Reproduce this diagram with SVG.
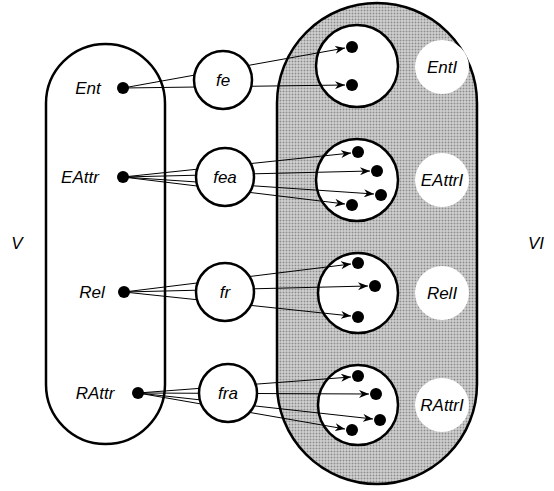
<svg xmlns="http://www.w3.org/2000/svg" width="554" height="491" viewBox="0 0 554 491">
  <style>
    .lbl { font-family: "Liberation Sans", Arial, sans-serif; font-style: italic; font-size: 17px; fill: #000; }
    .thick { fill: #fff; stroke: #000; stroke-width: 2.5; }
    .dot { fill: #000; }
    .edge { stroke: #000; stroke-width: 1; fill: none; marker-end: url(#head); }
    .tag { fill: #fff; stroke: none; }
  </style>
  <defs>
    <pattern id="stipple" width="3" height="3" patternUnits="userSpaceOnUse">
      <rect width="3" height="3" fill="#e2e2e2"/>
      <rect x="0.5" y="0.5" width="2" height="2" fill="#8c8c8c"/>
    </pattern>
    <marker id="head" viewBox="0 0 10 8" refX="10" refY="4" markerWidth="10" markerHeight="8" markerUnits="userSpaceOnUse" orient="auto">
      <path d="M0,0 L10,4 L0,8 L3,4 Z" fill="#000"/>
    </marker>
  </defs>

  <!-- outer sets -->
  <g id="set-V">
    <rect x="46" y="44" width="119" height="400" rx="59.5" ry="59.5" class="thick"/>
    <text class="lbl" x="17" y="249" text-anchor="middle">V</text>
  </g>
  <g id="set-VI">
    <rect x="277" y="3" width="200" height="481" rx="100" ry="100" fill="url(#stipple)" stroke="#000" stroke-width="2.5"/>
    <text class="lbl" x="536" y="249" text-anchor="middle">VI</text>
  </g>

  <!-- target sets -->
  <g id="EntI">
    <circle class="thick" cx="357" cy="66" r="41"/>
    <circle class="tag" cx="442" cy="67" r="27"/>
    <text class="lbl" x="442" y="73" text-anchor="middle">EntI</text>
  </g>
  <g id="EAttrI">
    <circle class="thick" cx="357" cy="180" r="41"/>
    <circle class="tag" cx="442" cy="180" r="27"/>
    <text class="lbl" x="442" y="186" text-anchor="middle">EAttrI</text>
  </g>
  <g id="RelI">
    <circle class="thick" cx="358" cy="293" r="40"/>
    <circle class="tag" cx="442" cy="293" r="27"/>
    <text class="lbl" x="442" y="299" text-anchor="middle">RelI</text>
  </g>
  <g id="RAttrI">
    <circle class="thick" cx="358" cy="405" r="40"/>
    <circle class="tag" cx="442" cy="405" r="27"/>
    <text class="lbl" x="442" y="411" text-anchor="middle">RAttrI</text>
  </g>

  <!-- connectors: straight lines from source dots to target elements -->
  <g id="connectors">
    <line class="edge" x1="123" y1="88" x2="345" y2="48"/>
    <line class="edge" x1="123" y1="88" x2="345" y2="85"/>

    <line class="edge" x1="123" y1="177" x2="351" y2="153"/>
    <line class="edge" x1="123" y1="177" x2="370" y2="171"/>
    <line class="edge" x1="123" y1="177" x2="374" y2="194"/>
    <line class="edge" x1="123" y1="177" x2="345" y2="204"/>

    <line class="edge" x1="124" y1="292" x2="351" y2="264"/>
    <line class="edge" x1="124" y1="292" x2="368" y2="286"/>
    <line class="edge" x1="124" y1="292" x2="351" y2="316"/>

    <line class="edge" x1="138" y1="393" x2="351" y2="377"/>
    <line class="edge" x1="138" y1="393" x2="369" y2="394"/>
    <line class="edge" x1="138" y1="393" x2="373" y2="419"/>
    <line class="edge" x1="138" y1="393" x2="345" y2="429"/>
  </g>

  <!-- elements inside the target sets -->
  <g id="EntI-elements">
    <circle class="dot" cx="352" cy="47" r="6"/>
    <circle class="dot" cx="352" cy="85" r="6"/>
  </g>
  <g id="EAttrI-elements">
    <circle class="dot" cx="358" cy="152" r="6"/>
    <circle class="dot" cx="377" cy="171" r="6"/>
    <circle class="dot" cx="381" cy="195" r="6"/>
    <circle class="dot" cx="352" cy="205" r="6"/>
  </g>
  <g id="RelI-elements">
    <circle class="dot" cx="358" cy="263" r="6"/>
    <circle class="dot" cx="375" cy="286" r="6"/>
    <circle class="dot" cx="358" cy="317" r="6"/>
  </g>
  <g id="RAttrI-elements">
    <circle class="dot" cx="358" cy="376" r="6"/>
    <circle class="dot" cx="376" cy="394" r="6"/>
    <circle class="dot" cx="380" cy="420" r="6"/>
    <circle class="dot" cx="352" cy="430" r="6"/>
  </g>

  <!-- source elements -->
  <g id="Ent">
    <circle class="dot" cx="123" cy="88" r="6"/>
    <text class="lbl" x="88" y="94" text-anchor="middle">Ent</text>
  </g>
  <g id="EAttr">
    <circle class="dot" cx="123" cy="177" r="6"/>
    <text class="lbl" x="80" y="183" text-anchor="middle">EAttr</text>
  </g>
  <g id="Rel">
    <circle class="dot" cx="124" cy="292" r="6"/>
    <text class="lbl" x="92" y="298" text-anchor="middle">Rel</text>
  </g>
  <g id="RAttr">
    <circle class="dot" cx="138" cy="393" r="6"/>
    <text class="lbl" x="95" y="399" text-anchor="middle">RAttr</text>
  </g>

  <!-- mapping functions -->
  <g id="fe">
    <circle class="thick" cx="223" cy="80" r="29"/>
    <text class="lbl" x="223" y="86" text-anchor="middle">fe</text>
  </g>
  <g id="fea">
    <circle class="thick" cx="225" cy="177" r="29"/>
    <text class="lbl" x="225" y="183" text-anchor="middle">fea</text>
  </g>
  <g id="fr">
    <circle class="thick" cx="225" cy="292" r="29"/>
    <text class="lbl" x="225" y="298" text-anchor="middle">fr</text>
  </g>
  <g id="fra">
    <circle class="thick" cx="228" cy="393" r="29"/>
    <text class="lbl" x="228" y="399" text-anchor="middle">fra</text>
  </g>
</svg>
